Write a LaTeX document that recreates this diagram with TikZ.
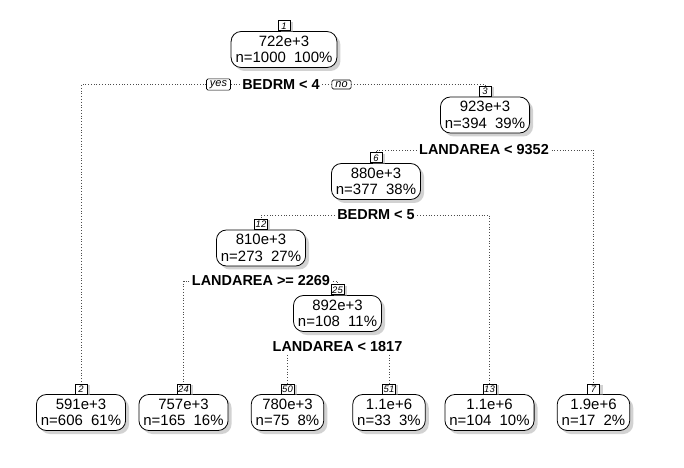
\documentclass[tikz,border=0pt]{standalone}
\usepackage{fontspec}
\setmainfont{Liberation Sans}
\usetikzlibrary{shadows}
\tikzset{
  box/.style={draw, rounded corners=10bp, fill=white, line width=0.8bp,
    minimum height=36bp, inner xsep=4.5bp, inner ysep=1bp, align=center,
    font=\fontsize{15}{16.5}\selectfont,
    drop shadow={shadow xshift=3.5bp, shadow yshift=-3.5bp, fill=black!35}},
  tag/.style={draw, fill=white, inner sep=1.2bp, minimum width=12bp,
    minimum height=10bp, font=\fontsize{9.5}{9.5}\selectfont\itshape,
    line width=0.6bp, anchor=south,
    drop shadow={shadow xshift=3bp, shadow yshift=-1bp, fill=black!35}},
  split/.style={font=\fontsize{14.5}{15}\selectfont\bfseries, inner sep=2.5bp},
  yn/.style={draw, fill=white, rounded corners=1.5bp, inner xsep=3.5bp,
    inner ysep=1.5bp, font=\fontsize{11}{11}\selectfont\itshape, line width=0.6bp},
  link/.style={dotted, line width=0.8bp, black!70}
}
\begin{document}
\begin{tikzpicture}[x=1bp, y=-1bp]
\useasboundingbox (0,0) rectangle (684,468);
\fill[white] (0,0) rectangle (684,468);

% internal nodes
\node[box] (b1) at (284,49.5) {722e+3\\n=1000\ \ 100\%};
\node[tag] (t1) at (b1.north) {1};
\node[split] (l1) at (281,84.5) {BEDRM < 4};
\node[yn] (yes) at (218.5,84.5) {yes};
\node[yn] (no) at (341.5,84.5) {no};

\node[box] (b3) at (485,115) {923e+3\\n=394\ \ 39\%};
\node[tag] (t3) at (b3.north) {3};
\node[split] (l3) at (484,150) {LANDAREA < 9352};

\node[box] (b6) at (376,181.5) {880e+3\\n=377\ \ 38\%};
\node[tag] (t6) at (b6.north) {6};
\node[split] (l6) at (376,215) {BEDRM < 5};

\node[box] (b12) at (261,248) {810e+3\\n=273\ \ 27\%};
\node[tag] (t12) at (b12.north) {12};
\node[split] (l12) at (261,281) {LANDAREA >= 2269};

\node[box] (b25) at (337.5,313.5) {892e+3\\n=108\ \ 11\%};
\node[tag] (t25) at (b25.north) {25};
\node[split] (l25) at (337.5,347) {LANDAREA < 1817};

% leaves
\node[box] (b2) at (81,412.5) {591e+3\\n=606\ \ 61\%};
\node[tag] (t2) at (b2.north) {2};
\node[box] (b24) at (183.5,412.5) {757e+3\\n=165\ \ 16\%};
\node[tag] (t24) at (b24.north) {24};
\node[box] (b50) at (287.5,412.5) {780e+3\\n=75\ \ 8\%};
\node[tag] (t50) at (b50.north) {50};
\node[box] (b51) at (389,412.5) {1.1e+6\\n=33\ \ 3\%};
\node[tag] (t51) at (b51.north) {51};
\node[box] (b13) at (489.5,412.5) {1.1e+6\\n=104\ \ 10\%};
\node[tag] (t13) at (b13.north) {13};
\node[box] (b7) at (593.5,412.5) {1.9e+6\\n=17\ \ 2\%};
\node[tag] (t7) at (b7.north) {7};

% connectors
\draw[link] (yes.west) -| (t2.north);
\draw[link] (yes.east) -- (l1.west);
\draw[link] (l1.east) -- (no.west);
\draw[link] (no.east) -| (t3.north);

\draw[link] (l3.west) -| (t6.north);
\draw[link] (l3.east) -| (t7.north);

\draw[link] (l6.west) -| (t12.north);
\draw[link] (l6.east) -| (t13.north);

\draw[link] (l12.west) -| (t24.north);
\draw[link] (l12.east) -| (t25.north);

\draw[link] (t50.north |- l25.south) -- (t50.north);
\draw[link] (t51.north |- l25.south) -- (t51.north);
\end{tikzpicture}
\end{document}
